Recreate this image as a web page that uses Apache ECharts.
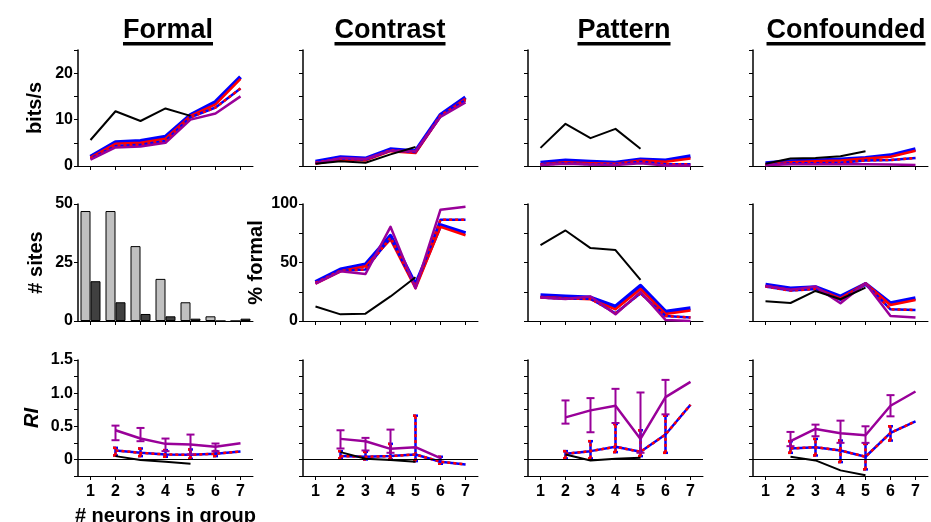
<!DOCTYPE html>
<html><head><meta charset="utf-8">
<script src="https://cdn.jsdelivr.net/npm/echarts@6/dist/echarts.min.js"></script>
<style>html,body{margin:0;padding:0;background:#fff}#c{width:931px;height:522px}</style>
</head><body><div id="c"></div>
<script>
// ---------------- DATA ----------------
const categories = ['1', '2', '3', '4', '5', '6', '7'];
const panelTitles = ['Formal', 'Contrast', 'Pattern', 'Confounded'];

// Row 1: information rate (bits/s), one array per column
const bitsBlack = [
  [5.6, 11.8, 9.7, 12.4, 10.8, null, null],
  [0.5, 1.0, 0.7, 2.5, 4.1, null, null],
  [3.9, 9.1, 6.0, 8.0, 3.7, null, null],
  [0.5, 1.6, 1.7, 2.1, 3.2, null, null]
];
const bitsBlue = [
  [2.0, 5.1, 5.4, 6.3, 11.0, 13.8, 19.2],
  [0.9, 1.9, 1.6, 3.6, 3.2, 11.0, 14.8],
  [0.7, 1.2, 0.9, 0.7, 1.4, 1.2, 2.1],
  [0.6, 1.0, 1.2, 1.4, 1.7, 2.3, 3.6]
];
const bitsRed = [
  [1.8, 4.8, 5.0, 5.9, 10.8, 13.3, 18.8],
  [0.5, 1.4, 1.2, 3.2, 2.8, 10.7, 14.5],
  [0.4, 0.8, 0.6, 0.5, 1.2, 0.9, 1.6],
  [0.3, 0.8, 1.0, 1.2, 1.6, 2.0, 3.3]
];
const bitsMix = [
  [1.6, 4.3, 4.6, 5.4, 10.5, 12.6, 16.7],
  [0.7, 1.6, 1.4, 3.4, 3.0, 10.9, 14.2],
  [0.3, 0.6, 0.4, 0.4, 0.9, 0.4, 0.4],
  [0.2, 0.6, 0.6, 0.7, 1.2, 1.3, 1.7]
];
const bitsPurple = [
  [1.4, 4.0, 4.2, 5.0, 10.0, 11.3, 15.0],
  [0.6, 1.7, 1.5, 3.3, 3.2, 10.6, 13.7],
  [0.2, 0.5, 0.3, 0.2, 0.6, 0.1, 0.1],
  [0.2, 0.4, 0.4, 0.4, 0.4, 0.3, 0.2]
];

// Row 2, column 1: number of sites
const sitesLight = [47, 47, 32, 18, 8, 2, 0];
const sitesDark = [17, 8, 3, 2, 1, 0, 1];

// Row 2, columns 2-4: % formal
const pctBlack = [
  [12.4, 5.7, 6.3, 21, 37.4, null, null],
  [64.9, 77.4, 62.3, 60.6, 35.1, null, null],
  [16.9, 15.4, 25.7, 18.6, 28.6, null, null]
];
const pctBlue = [
  [33.3, 44, 48.3, 72.7, 31, 81.9, 75],
  [22, 20.9, 20, 12.3, 30, 8, 10.9],
  [30.9, 27.7, 28.9, 20.9, 31.7, 15.1, 19.4]
];
const pctRed = [
  [31.9, 42.5, 46.8, 69.8, 28, 80.5, 73.3],
  [20.6, 19.4, 18.6, 10, 27.4, 6, 8.9],
  [30, 26.6, 28, 19.4, 32.3, 13.7, 18]
];
const pctMix = [
  [32.5, 43, 44, 71.3, 29.6, 86.5, 86.5],
  [20, 19.1, 19.1, 6.6, 23.7, 4.3, 2.9],
  [29.4, 26, 27.4, 18, 31.7, 10, 9.4]
];
const pctPurple = [
  [32, 42.5, 40.2, 80.5, 28, 95.1, 97.7],
  [20, 18.9, 20.9, 5.7, 24.9, 0.9, 0],
  [30, 26.6, 29.4, 15.1, 32.3, 4.3, 2.9]
];

// Row 3: RI
const riBlack = [
  [null, 0.05, -0.01, -0.035, -0.065, null, null],
  [null, 0.11, 0.01, -0.01, -0.035, null, null],
  [null, 0.075, -0.015, 0.01, 0.025, null, null],
  [null, 0.04, -0.015, -0.165, -0.24, null, null]
];
const riPurple = [
  [null, 0.44, 0.315, 0.235, 0.225, 0.19, 0.245],
  [null, 0.31, 0.275, 0.16, 0.185, 0.02, null],
  [null, 0.635, 0.74, 0.81, 0.31, 0.94, 1.17],
  [null, 0.275, 0.46, 0.395, 0.365, 0.81, 1.025]
];
const riPurpleHigh = [
  [null, 0.51, 0.475, 0.315, 0.375, 0.24, null],
  [null, 0.44, 0.325, 0.45, null, null, null],
  [null, 0.89, 0.925, 1.065, 1.01, 1.2, null],
  [null, 0.415, 0.525, 0.585, 0.5, 0.97, null]
];
const riPurpleLow = [
  [null, 0.29, 0.275, 0.125, 0.075, 0.125, null],
  [null, 0.165, 0.135, 0.1, null, null, null],
  [null, 0.54, 0.41, 0.55, 0.1, 0.68, null],
  [null, 0.2, 0.35, 0.25, 0.25, 0.65, null]
];
const riMix = [
  [null, 0.135, 0.1, 0.075, 0.07, 0.085, 0.12],
  [null, 0.05, 0.04, 0.05, 0.075, -0.035, -0.075],
  [null, 0.085, 0.125, 0.19, 0.115, 0.375, 0.825],
  [null, 0.165, 0.185, 0.135, 0.04, 0.4, 0.575]
];
const riMixHigh = [
  [null, 0.175, 0.165, 0.14, 0.15, 0.125, null],
  [null, 0.125, 0.115, 0.235, 0.66, 0.04, null],
  [null, 0.125, 0.275, 0.535, 0.44, 0.66, null],
  [null, 0.275, 0.31, 0.285, 0.235, 0.5, null]
];
const riMixLow = [
  [null, 0.06, 0.05, 0.04, 0.01, 0.05, null],
  [null, 0.015, 0, 0, -0.025, -0.065, null],
  [null, 0.015, 0.015, 0.11, 0.05, 0.1, null],
  [null, 0.1, 0.06, -0.04, -0.15, 0.285, null]
];

// ---------------- STYLE / LAYOUT ----------------
const FONT = '"Liberation Sans", Arial, Helvetica, sans-serif';
const BLUE = '#0000ff', RED = '#ff0000', PURPLE = '#990099', BLACK = '#000000';
const colLeft = [78, 303, 528, 753];
const rowTop = [50, 204, 360];
const rowHeight = [116, 117, 116];
const panelWidth = 175;
const titleCenters = [168, 390, 624, 846];
const TICK_FS = 16;

const grids = [], xAxes = [], yAxes = [], series = [];

function nameStyle(italic) {
  return { color: '#000', fontSize: 20, fontWeight: 'bold', fontFamily: FONT, fontStyle: italic ? 'italic' : 'normal' };
}
function lineS(gi, data, color, width, dash, z) {
  return {
    type: 'line', xAxisIndex: gi, yAxisIndex: gi, data: data, symbol: 'none', silent: true,
    connectNulls: false, z: z,
    lineStyle: { color: color, width: width, type: dash || 'solid', cap: 'butt', join: 'round' }
  };
}
function errS(gi, lows, highs, kind, z) {
  const data = [];
  for (let i = 0; i < 7; i++) {
    if (lows[i] != null && highs[i] != null) data.push([i, lows[i], highs[i]]);
  }
  return {
    type: 'custom', xAxisIndex: gi, yAxisIndex: gi, data: data, silent: true, z: z,
    encode: { x: 0, y: [1, 2] },
    renderItem: function (params, api) {
      const i = api.value(0);
      const p1 = api.coord([i, api.value(1)]);
      const p2 = api.coord([i, api.value(2)]);
      const ch = [];
      if (kind === 'purple') {
        const st = { stroke: PURPLE, lineWidth: 2 };
        ch.push({ type: 'line', shape: { x1: p1[0], y1: p1[1], x2: p2[0], y2: p2[1] }, style: st });
        ch.push({ type: 'line', shape: { x1: p1[0] - 4, y1: p1[1], x2: p1[0] + 4, y2: p1[1] }, style: st });
        ch.push({ type: 'line', shape: { x1: p2[0] - 4, y1: p2[1], x2: p2[0] + 4, y2: p2[1] }, style: st });
      } else {
        const sb = { stroke: BLUE, lineWidth: 2.5 };
        const sr = { stroke: RED, lineWidth: 2.5, lineDash: [3, 3] };
        [sb, sr].forEach(function (st) {
          ch.push({ type: 'line', shape: { x1: p1[0], y1: p1[1], x2: p2[0], y2: p2[1] }, style: st });
          ch.push({ type: 'line', shape: { x1: p1[0] - 2.5, y1: p1[1], x2: p1[0] + 2.5, y2: p1[1] }, style: st });
          ch.push({ type: 'line', shape: { x1: p2[0] - 2.5, y1: p2[1], x2: p2[0] + 2.5, y2: p2[1] }, style: st });
        });
      }
      return { type: 'group', children: ch };
    }
  };
}

for (let r = 0; r < 3; r++) {
  for (let c = 0; c < 4; c++) {
    const gi = r * 4 + c;
    grids.push({ left: colLeft[c], top: rowTop[r], width: panelWidth, height: rowHeight[r], outerBoundsMode: 'none' });

    const xa = {
      gridIndex: gi, type: 'category', data: categories, boundaryGap: true,
      axisLine: { show: true, onZero: false, lineStyle: { color: '#000', width: 1 } },
      axisTick: { show: true, alignWithLabel: true, interval: 0, length: 4, lineStyle: { color: '#000', width: 1 } },
      axisLabel: { show: r === 2, interval: 0, color: '#000', fontSize: TICK_FS, fontWeight: 'bold', fontFamily: FONT, margin: 8 },
      splitLine: { show: false }
    };
    if (r === 2 && c === 0) {
      xa.name = '# neurons in group';
      xa.nameLocation = 'middle';
      xa.nameGap = 30;
      xa.nameTextStyle = nameStyle(false);
    }
    xAxes.push(xa);

    let ya;
    const base = {
      gridIndex: gi, type: 'value',
      axisLine: { show: true, lineStyle: { color: '#000', width: 1.5 } },
      axisTick: { show: true, length: 4, lineStyle: { color: '#000', width: 1 } },
      splitLine: { show: false },
      axisLabel: { show: false, color: '#000', fontSize: TICK_FS, fontWeight: 'bold', fontFamily: FONT, margin: 5 },
      nameLocation: 'middle', nameRotate: 90
    };
    if (r === 0) {
      ya = Object.assign({}, base, { min: 0, max: 25, interval: 5 });
      if (c === 0) {
        ya.axisLabel = Object.assign({}, base.axisLabel, { show: true, formatter: v => (v % 10 === 0 ? String(v) : '') });
        ya.name = 'bits/s'; ya.nameGap = 33; ya.nameTextStyle = nameStyle(false);
      }
    } else if (r === 1) {
      if (c === 0) {
        ya = Object.assign({}, base, { min: 0, max: 50, interval: 25 });
        ya.axisLabel = Object.assign({}, base.axisLabel, { show: true });
        ya.name = '# sites'; ya.nameGap = 32; ya.nameTextStyle = nameStyle(false);
      } else {
        ya = Object.assign({}, base, { min: 0, max: 100, interval: 25 });
        if (c === 1) {
          ya.axisLabel = Object.assign({}, base.axisLabel, { show: true, formatter: v => (v % 50 === 0 ? String(v) : '') });
          ya.name = '% formal'; ya.nameGap = 37; ya.nameTextStyle = nameStyle(false);
        }
      }
    } else {
      ya = Object.assign({}, base, { min: -0.25, max: 1.5, interval: 0.25 });
      if (c === 0) {
        ya.axisLabel = Object.assign({}, base.axisLabel, {
          show: true,
          formatter: v => (Math.abs(v) < 1e-9 ? '0' : (v > 0 && Math.abs(v * 2 - Math.round(v * 2)) < 1e-9 ? v.toFixed(1) : ''))
        });
        ya.name = 'RI'; ya.nameGap = 36; ya.nameTextStyle = nameStyle(true);
      }
    }
    yAxes.push(ya);

    // series
    if (r === 0) {
      series.push(lineS(gi, bitsBlue[c], BLUE, 4, null, 2));
      series.push(lineS(gi, bitsRed[c], RED, 2.5, null, 3));
      series.push(lineS(gi, bitsMix[c], BLUE, 2.5, null, 4));
      series.push(lineS(gi, bitsMix[c], RED, 2.5, [3, 3], 5));
      series.push(lineS(gi, bitsPurple[c], PURPLE, 2.5, null, 6));
      series.push(lineS(gi, bitsBlack[c], BLACK, 2, null, 7));
    } else if (r === 1) {
      if (c === 0) {
        series.push({
          type: 'bar', xAxisIndex: gi, yAxisIndex: gi, data: sitesLight, barWidth: 10, barGap: '0%', silent: true,
          itemStyle: { color: '#c0c0c0', borderColor: '#000', borderWidth: 1 }
        });
        series.push({
          type: 'bar', xAxisIndex: gi, yAxisIndex: gi, data: sitesDark, barWidth: 10, barGap: '0%', silent: true,
          itemStyle: { color: '#404040', borderColor: '#000', borderWidth: 1 }
        });
      } else {
        const k = c - 1;
        series.push(lineS(gi, pctBlue[k], BLUE, 4, null, 2));
        series.push(lineS(gi, pctRed[k], RED, 2.5, null, 3));
        series.push(lineS(gi, pctMix[k], BLUE, 2.5, null, 4));
        series.push(lineS(gi, pctMix[k], RED, 2.5, [3, 3], 5));
        series.push(lineS(gi, pctPurple[k], PURPLE, 2.5, null, 6));
        series.push(lineS(gi, pctBlack[k], BLACK, 2, null, 7));
      }
    } else {
      const blk = lineS(gi, riBlack[c], BLACK, 2, null, 7);
      blk.markLine = {
        silent: true, symbol: 'none', animation: false, label: { show: false },
        lineStyle: { color: '#000', width: 1, type: 'solid' },
        data: [{ yAxis: 0 }]
      };
      series.push(errS(gi, riMixLow[c], riMixHigh[c], 'mix', 2));
      series.push(lineS(gi, riMix[c], BLUE, 2.5, null, 3));
      series.push(lineS(gi, riMix[c], RED, 2.5, [3, 3], 4));
      series.push(errS(gi, riPurpleLow[c], riPurpleHigh[c], 'purple', 5));
      series.push(lineS(gi, riPurple[c], PURPLE, 2.5, null, 6));
      series.push(blk);
    }
  }
}

// titles with underline
const TITLE_FONT = 'bold 27px "Liberation Sans", Arial, sans-serif';
const mc = document.createElement('canvas').getContext('2d');
mc.font = TITLE_FONT;
const graphics = [];
panelTitles.forEach(function (t, i) {
  const w = mc.measureText(t).width;
  graphics.push({
    type: 'text', x: titleCenters[i], y: 31, silent: true,
    style: { text: t, font: TITLE_FONT, fill: '#000', textAlign: 'center', textVerticalAlign: 'middle' }
  });
  graphics.push({
    type: 'rect', silent: true,
    shape: { x: titleCenters[i] - w / 2, y: 42, width: w, height: 3.5 },
    style: { fill: '#000' }
  });
});

const chart = echarts.init(document.getElementById('c'), null, { renderer: 'canvas' });
chart.setOption({
  animation: false,
  backgroundColor: '#ffffff',
  grid: grids,
  xAxis: xAxes,
  yAxis: yAxes,
  series: series,
  graphic: graphics
});
</script>
</body></html>
